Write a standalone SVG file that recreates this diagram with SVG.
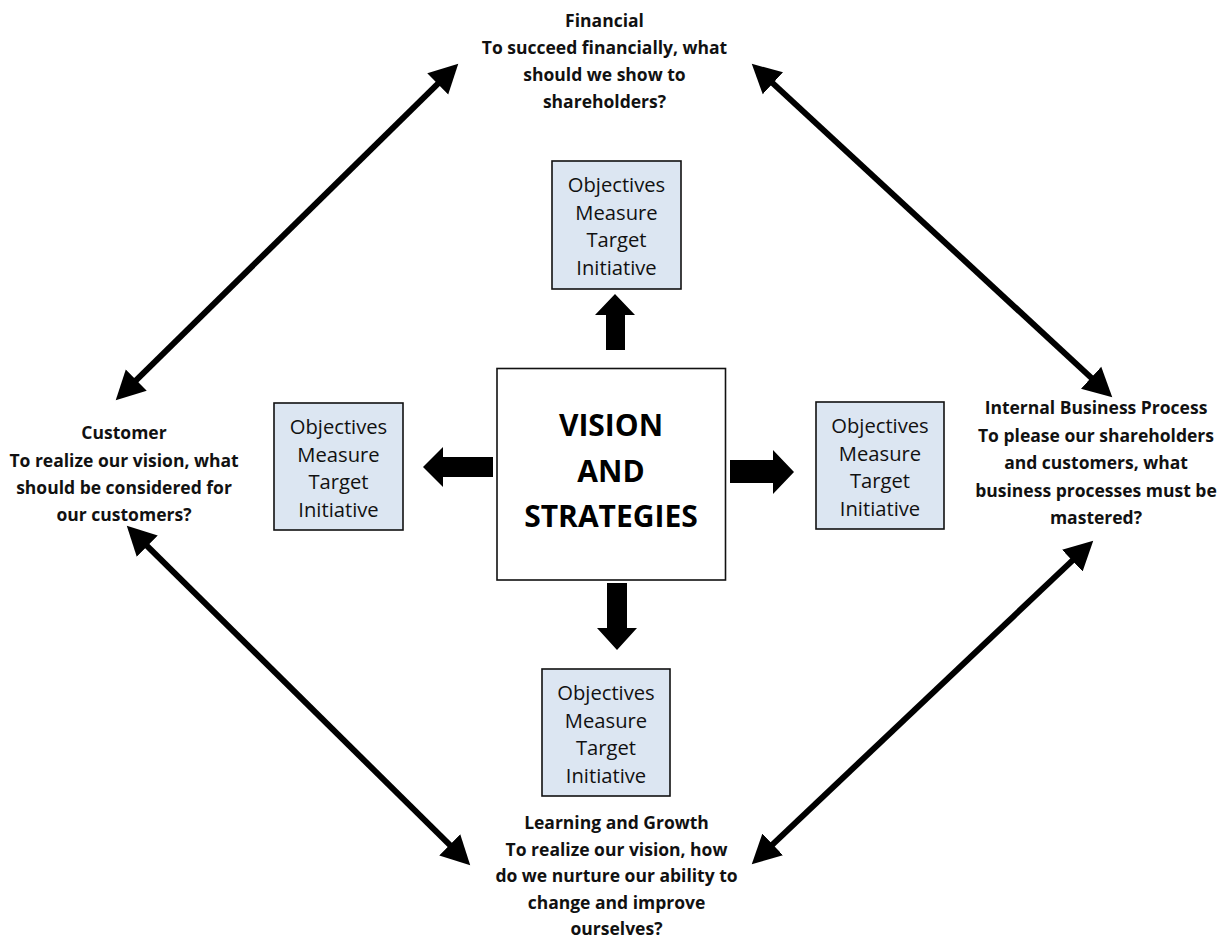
<svg xmlns="http://www.w3.org/2000/svg" width="1228" height="940" viewBox="0 0 1228 940">
<style>
.lbl{font-family:"Open Sans","Liberation Sans",sans-serif;font-weight:bold;font-size:17.5px;fill:#111;text-anchor:middle}
.box{fill:#dce6f2;stroke:#111;stroke-width:1.6}
.btx{font-family:"Open Sans","Liberation Sans",sans-serif;font-size:20.2px;fill:#111;text-anchor:middle}
.ctx{font-family:"Open Sans","Liberation Sans",sans-serif;font-weight:bold;font-size:30px;fill:#000;text-anchor:middle}
.dbl{stroke:#000;stroke-width:6;fill:none;marker-start:url(#ah);marker-end:url(#ah)}
.fat{fill:#000}
</style>
<defs>
<marker id="ah" markerUnits="userSpaceOnUse" markerWidth="30" markerHeight="32" viewBox="-1 -15 28 30" refX="0" refY="0" orient="auto-start-reverse">
<path d="M-1,-14 L26,0 L-1,14 z" fill="#000"/>
</marker>
</defs>
<rect width="1228" height="940" fill="#fff"/>

<g id="connectors">
<line class="dbl" x1="438.5" y1="83.2" x2="135.5" y2="380.8"/>
<line class="dbl" x1="772.1" y1="82.6" x2="1091.9" y2="378.4"/>
<line class="dbl" x1="146.5" y1="545.3" x2="450.5" y2="845.7"/>
<line class="dbl" x1="1073.1" y1="559.9" x2="771.9" y2="845.1"/>
<polygon class="fat" points="606,350 625,350 625,315 635,315 615,294 595,315 606,315"/>
<polygon class="fat" points="493,457 493,477 443,477 443,487 423,467 443,447 443,457"/>
<polygon class="fat" points="730,460 730,483 773,483 773,494 794,472 773,450 773,460"/>
<polygon class="fat" points="607,583 627,583 627,628 637,628 617,650 597,628 607,628"/>
</g>

<g id="financial">
<text class="lbl" x="604.5" y="27">Financial</text>
<text class="lbl" x="604.5" y="54">To succeed financially, what</text>
<text class="lbl" x="604.5" y="81">should we show to</text>
<text class="lbl" x="604.5" y="108">shareholders?</text>
</g>

<g id="customer">
<text class="lbl" x="124" y="439">Customer</text>
<text class="lbl" x="124" y="466.5">To realize our vision, what</text>
<text class="lbl" x="124" y="493.5">should be considered for</text>
<text class="lbl" x="124" y="521">our customers?</text>
</g>

<g id="internal">
<text class="lbl" x="1096" y="414">Internal Business Process</text>
<text class="lbl" x="1096" y="441.5">To please our shareholders</text>
<text class="lbl" x="1096" y="469">and customers, what</text>
<text class="lbl" x="1096" y="496.5">business processes must be</text>
<text class="lbl" x="1096" y="524">mastered?</text>
</g>

<g id="learning">
<text class="lbl" x="616.5" y="828.5">Learning and Growth</text>
<text class="lbl" x="616.5" y="855.5">To realize our vision, how</text>
<text class="lbl" x="616.5" y="882">do we nurture our ability to</text>
<text class="lbl" x="616.5" y="908.5">change and improve</text>
<text class="lbl" x="616.5" y="934.5">ourselves?</text>
</g>

<g id="vision">
<rect x="497" y="368.5" width="228.5" height="211.5" fill="#fff" stroke="#111" stroke-width="1.6"/>
<text class="ctx" x="611" y="436">VISION</text>
<text class="ctx" x="611" y="481.5">AND</text>
<text class="ctx" x="611" y="527">STRATEGIES</text>
</g>

<g id="box-top">
<rect class="box" x="552" y="161" width="129" height="128"/>
<text class="btx" x="616.5" y="192">Objectives</text>
<text class="btx" x="616.5" y="219.5">Measure</text>
<text class="btx" x="616.5" y="247">Target</text>
<text class="btx" x="616.5" y="274.5">Initiative</text>
</g>

<g id="box-left">
<rect class="box" x="274" y="403" width="129" height="127"/>
<text class="btx" x="338.5" y="434">Objectives</text>
<text class="btx" x="338.5" y="461.5">Measure</text>
<text class="btx" x="338.5" y="489">Target</text>
<text class="btx" x="338.5" y="516.5">Initiative</text>
</g>

<g id="box-right">
<rect class="box" x="816" y="402" width="128" height="127"/>
<text class="btx" x="880" y="433">Objectives</text>
<text class="btx" x="880" y="460.5">Measure</text>
<text class="btx" x="880" y="488">Target</text>
<text class="btx" x="880" y="515.5">Initiative</text>
</g>

<g id="box-bottom">
<rect class="box" x="542" y="669" width="128" height="127"/>
<text class="btx" x="606" y="700">Objectives</text>
<text class="btx" x="606" y="727.5">Measure</text>
<text class="btx" x="606" y="755">Target</text>
<text class="btx" x="606" y="782.5">Initiative</text>
</g>
</svg>
